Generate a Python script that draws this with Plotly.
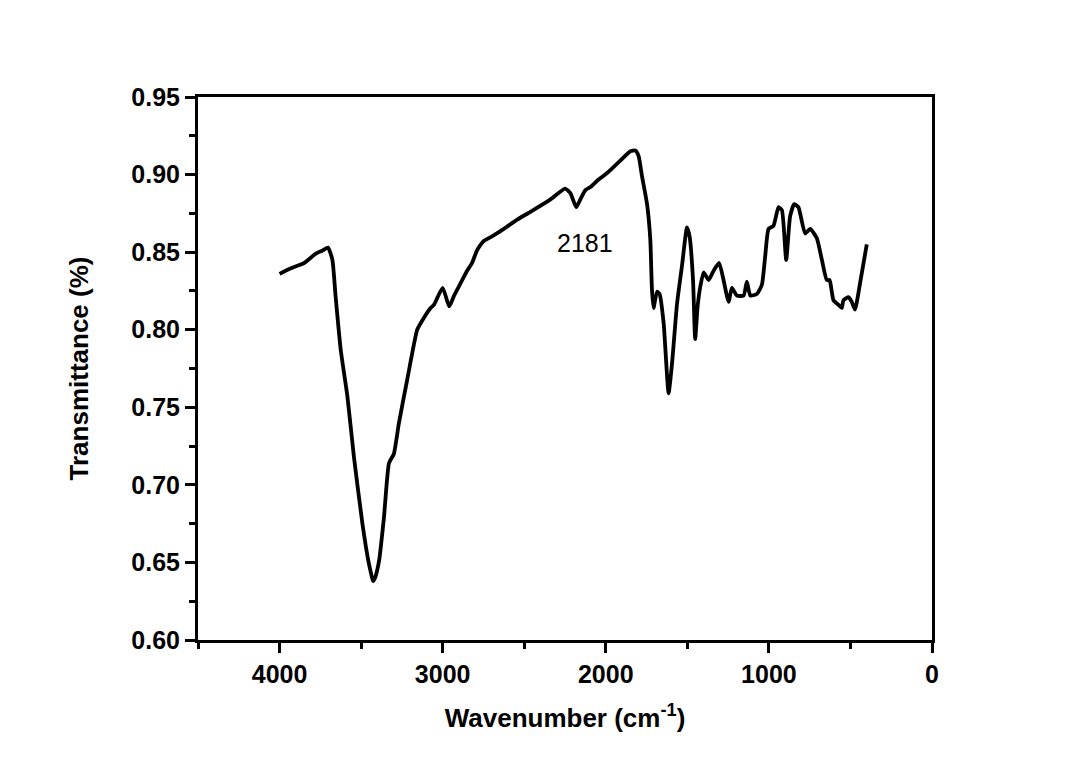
import plotly.graph_objects as go

wavenumber = [4000, 3931, 3849, 3778, 3737, 3703, 3676, 3656, 3625, 3584, 3544, 3492, 3452,
              3437, 3427, 3415, 3390, 3360, 3329, 3299, 3268, 3217, 3156, 3125, 3074, 3054,
              3000, 2960, 2930, 2890, 2850, 2820, 2790, 2750, 2700, 2625, 2543, 2462, 2339,
              2250, 2217, 2181, 2156, 2125, 2094, 2053, 1992, 1911, 1849, 1819, 1799, 1778,
              1747, 1727, 1717, 1707, 1686, 1670, 1645, 1615, 1594, 1563, 1533, 1502, 1486,
              1465, 1452, 1437, 1420, 1400, 1370, 1339, 1305, 1278, 1247, 1227, 1196, 1155,
              1135, 1114, 1074, 1043, 1023, 1002, 972, 941, 920, 894, 870, 845, 819, 778,
              747, 706, 675, 645, 628, 604, 573, 553, 543, 512, 492, 472, 441, 400]
transmittance = [0.836, 0.8396, 0.843, 0.849, 0.851, 0.853, 0.845, 0.821, 0.787, 0.757, 0.718, 0.675, 0.649,
                 0.642, 0.638, 0.640, 0.651, 0.679, 0.714, 0.720, 0.740, 0.768, 0.800, 0.806, 0.814, 0.816,
                 0.827, 0.815, 0.822, 0.830, 0.838, 0.843, 0.851, 0.857, 0.860, 0.865, 0.871, 0.876, 0.884,
                 0.891, 0.888, 0.879, 0.884, 0.890, 0.892, 0.896, 0.901, 0.909, 0.915, 0.9155, 0.912, 0.899,
                 0.881, 0.858, 0.826, 0.814, 0.8245, 0.823, 0.804, 0.759, 0.778, 0.817, 0.841, 0.866, 0.860,
                 0.832, 0.794, 0.815, 0.828, 0.837, 0.832, 0.838, 0.843, 0.832, 0.818, 0.827, 0.822, 0.822,
                 0.831, 0.822, 0.823, 0.829, 0.847, 0.865, 0.867, 0.879, 0.877, 0.845, 0.873, 0.881, 0.879, 0.862,
                 0.865, 0.859, 0.845, 0.832, 0.832, 0.819, 0.816, 0.814, 0.819, 0.821, 0.818, 0.813, 0.830, 0.855]

x_ticks = [4000, 3000, 2000, 1000, 0]
y_ticks = [0.60, 0.65, 0.70, 0.75, 0.80, 0.85, 0.90, 0.95]
annotation_text = "2181"
annotation_pos = (2125, 0.856)

font_family = "Liberation Sans, Arial, sans-serif"

fig = go.Figure()
fig.add_trace(go.Scatter(x=wavenumber, y=transmittance, mode="lines",
                         line=dict(color="black", width=3.8, shape="spline", smoothing=0.5),
                         showlegend=False))

fig.add_annotation(x=annotation_pos[0], y=annotation_pos[1], text=annotation_text,
                   showarrow=False, font=dict(family=font_family, size=25, color="black"))

axis_common = dict(showline=True, linecolor="black", linewidth=3, mirror=True,
                   showgrid=False, zeroline=False, ticks="outside", ticklen=10, tickwidth=2.5,
                   tickcolor="black",
                   tickfont=dict(family=font_family, size=25, color="black", weight="bold"))

fig.update_xaxes(range=[4500, 0], tickvals=x_ticks, ticktext=[str(v) for v in x_ticks],
                 minor=dict(ticks="outside", ticklen=6, tickwidth=2.5, tickcolor="black", dtick=500, tick0=0),
                 title=dict(text="Wavenumber (cm<sup>-1</sup>)", standoff=22,
                            font=dict(family=font_family, size=26, color="black", weight="bold")),
                 **axis_common)
fig.update_yaxes(range=[0.60, 0.95], tickvals=y_ticks, ticktext=[f"{v:.2f}" for v in y_ticks],
                 minor=dict(ticks="outside", ticklen=6, tickwidth=2.5, tickcolor="black", dtick=0.025, tick0=0.6),
                 title=dict(text="Transmittance (%)", standoff=36,
                            font=dict(family=font_family, size=26, color="black", weight="bold")),
                 **axis_common)

fig.update_layout(width=1068, height=758, margin=dict(l=198, r=136, t=97, b=118),
                  paper_bgcolor="white", plot_bgcolor="white")

fig.write_html("out.html")
